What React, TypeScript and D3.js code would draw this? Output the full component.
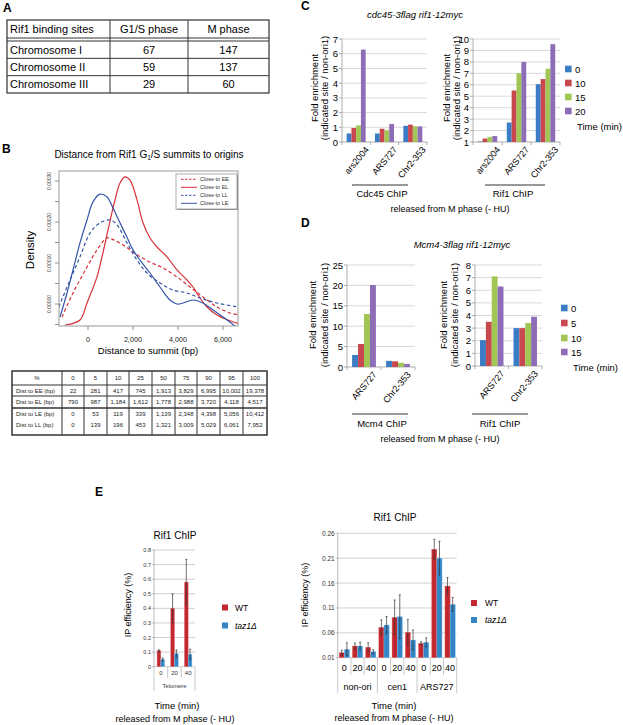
import React from 'react';
import * as d3 from 'd3';

const FONT = "'Liberation Sans', Arial, Helvetica, sans-serif";

// ---------- Panel A data ----------
const aHeaders = ['Rif1 binding sites', 'G1/S phase', 'M phase'];
const aChromosomes = ['Chromosome I', 'Chromosome II', 'Chromosome III'];
const aG1S = [67, 59, 29];
const aM = [147, 137, 60];

// ---------- Panel B data (distance bp, density) ----------
const curveEE: [number, number][] = [
  [-1156, -0.0000317], [-667, 0.0000268], [-44, 0.0000902], [400, 0.000132], [844, 0.000161],
  [1111, 0.000157], [1556, 0.000144], [2178, 0.00012], [2756, 0.000102], [3333, 0.0000878],
  [3956, 0.0000659], [4533, 0.0000415], [5111, 0.0000171], [5733, -0.0000073], [6311, -0.000022], [6700, -0.0000268],
];
const curveEL: [number, number][] = [
  [-1022, -0.0000512], [-356, -0.000039], [-44, 0.0000024], [400, 0.000066], [622, 0.000115],
  [889, 0.00018], [1200, 0.000254], [1422, 0.000295], [1644, 0.00031], [1867, 0.000302],
  [2178, 0.000254], [2444, 0.000198], [2756, 0.000161], [3067, 0.000139], [3511, 0.000115],
  [3956, 0.000083], [4400, 0.0000585], [4667, 0.0000415], [4978, 0.0000146], [5289, -0.0000073],
  [5733, -0.000027], [6311, -0.000041], [6756, -0.000049],
];
const curveLL: [number, number][] = [
  [-1300, -0.0000073], [-800, 0.0000585], [-356, 0.000115], [89, 0.000173], [533, 0.000198],
  [978, 0.000205], [1289, 0.000193], [1733, 0.000149], [2178, 0.000107], [2622, 0.0000756],
  [3200, 0.0000512], [3778, 0.0000341], [4400, 0.0000268], [4978, 0.0000146], [5733, 0.0000024], [6700, -0.0000073],
];
const curveLE: [number, number][] = [
  [-1244, -0.0000317], [-933, 0.0000268], [-667, 0.0000829], [-356, 0.000149], [-44, 0.000205],
  [222, 0.000249], [533, 0.000268], [844, 0.000261], [1111, 0.000234], [1422, 0.000198],
  [1733, 0.000163], [2000, 0.000132], [2311, 0.000107], [2756, 0.0000756], [3200, 0.0000415],
  [3644, 0.0000098], [3956, 0.0], [4222, 0.0000024], [4667, 0.0000098], [5111, 0.0000024],
  [5556, -0.0000146], [6000, -0.0000317], [6533, -0.0000537],
];
const bLegend = ['Close to EE', 'Close to EL', 'Close to LL', 'Close to LE'];
const bXTicks = [0, 2000, 4000, 6000];
const bYTicks = [-0.00005, 0, 0.00005, 0.0001, 0.00015, 0.0002, 0.00025, 0.0003];
const bYLabels = [0, 0.0001, 0.0002, 0.0003];

const bPercent = [0, 5, 10, 25, 50, 75, 90, 95, 100];
const bRowNames = ['Dist to EE (bp)', 'Dist to EL (bp)', 'Dist to LE (bp)', 'Dist to LL (bp)'];
const distEE = [22, 281, 417, 745, 1913, 3829, 6995, 10002, 19378];
const distEL = [790, 987, 1184, 1612, 1778, 2988, 3720, 4118, 4517];
const distLE = [0, 53, 119, 339, 1139, 2348, 4398, 5056, 10412];
const distLL = [0, 139, 196, 453, 1321, 3009, 5029, 6061, 7952];

// ---------- Panel C data ----------
const cSites = ['ars2004', 'ARS727', 'Chr2-353'];
const cTimes = ['0', '10', '15', '20'];
const cCdc45 = [[0.58, 0.95, 1.13, 6.28], [0.58, 0.9, 0.8, 1.22], [1.1, 1.18, 1.07, 1.06]];
const cRif1 = [[1.05, 1.3, 1.45, 1.52], [2.7, 5.5, 7.0, 8.0], [6.05, 6.5, 7.4, 9.55]];

// ---------- Panel D data ----------
const dSites = ['ARS727', 'Chr2-353'];
const dTimes = ['0', '5', '10', '15'];
const dMcm4 = [[2.95, 5.65, 13.0, 20.1], [1.5, 1.4, 1.05, 0.75]];
const dRif1 = [[2.05, 3.5, 7.1, 6.3], [3.0, 3.0, 3.4, 3.9]];

// ---------- Panel E data ----------
const eTimes = ['0', '20', '40'];
const eLeftWT = [0.11, 0.4, 0.58];
const eLeftWTErr = [0.005, 0.1, 0.155];
const eLeftTaz = [0.05, 0.09, 0.085];
const eLeftTazErr = [0.01, 0.025, 0.035];

const eRightCats = ['non-ori', 'cen1', 'ARS727'];
const eRightWT = [0.02, 0.0335, 0.031, 0.071, 0.091, 0.061, 0.039, 0.228, 0.154];
const eRightWTErr = [0.005, 0.006, 0.009, 0.015, 0.035, 0.026, 0.003, 0.02, 0.017];
const eRightTaz = [0.027, 0.0335, 0.022, 0.0757, 0.0923, 0.0455, 0.041, 0.21, 0.117];
const eRightTazErr = [0.013, 0.0075, 0.004, 0.017, 0.044, 0.02, 0.009, 0.034, 0.014];

const BAR_COLORS = ['#3b7dc4', '#c9474f', '#a2c654', '#8d6db5'];
const E_RED = '#c3282f';
const E_BLUE = '#3385c6';
const B_RED = '#d7303a';
const B_BLUE = '#3556a8';

function Letter({ x, y, t }: { x: number; y: number; t: string }) {
  return <text x={x} y={y} fontSize={12} fontWeight="bold" fontFamily={FONT}>{t}</text>;
}

function PanelA() {
  const cols = [7, 110, 188, 269];
  const headerTop = 20, headerBot = 38, bodyTop = 41, bottom = 93;
  const rowH = (bottom - bodyTop) / aChromosomes.length;
  const cx = (i: number) => (cols[i] + cols[i + 1]) / 2;
  return (
    <g fontFamily={FONT} fontSize={11}>
      <Letter x={3} y={12} t="A" />
      <rect x={cols[0]} y={headerTop} width={cols[3] - cols[0]} height={bottom - headerTop} fill="none" stroke="#333" strokeWidth={1.2} />
      <line x1={cols[0]} x2={cols[3]} y1={headerBot} y2={headerBot} stroke="#333" />
      <line x1={cols[0]} x2={cols[3]} y1={bodyTop} y2={bodyTop} stroke="#333" />
      {aChromosomes.slice(1).map((_, i) => (
        <line key={i} x1={cols[0]} x2={cols[3]} y1={bodyTop + rowH * (i + 1)} y2={bodyTop + rowH * (i + 1)} stroke="#333" />
      ))}
      {[1, 2].map((i) => (
        <line key={i} x1={cols[i]} x2={cols[i]} y1={headerTop} y2={bottom} stroke="#333" />
      ))}
      <text x={cols[0] + 3} y={(headerTop + headerBot) / 2} dominantBaseline="central">{aHeaders[0]}</text>
      <text x={cx(1)} y={(headerTop + headerBot) / 2} dominantBaseline="central" textAnchor="middle">{aHeaders[1]}</text>
      <text x={cx(2)} y={(headerTop + headerBot) / 2} dominantBaseline="central" textAnchor="middle">{aHeaders[2]}</text>
      {aChromosomes.map((c, i) => {
        const yc = bodyTop + rowH * (i + 0.5);
        return (
          <g key={c}>
            <text x={cols[0] + 3} y={yc} dominantBaseline="central">{c}</text>
            <text x={cx(1)} y={yc} dominantBaseline="central" textAnchor="middle">{aG1S[i]}</text>
            <text x={cx(2)} y={yc} dominantBaseline="central" textAnchor="middle">{aM[i]}</text>
          </g>
        );
      })}
    </g>
  );
}

function PanelB() {
  const L = 59, R = 238, T = 171, B = 326;
  const x = d3.scaleLinear().domain([(L - 88) / 45 * 2000, (R - 88) / 45 * 2000]).range([L, R]);
  const y = d3.scaleLinear().domain([-(B - 304) / 41 * 0.0001, (304 - T) / 41 * 0.0001]).range([B, T]);
  const line = d3.line<[number, number]>().x((d) => x(d[0])).y((d) => y(d[1])).curve(d3.curveCatmullRom.alpha(0.5));
  const curves = [
    { d: curveEE, c: B_RED, dash: '3.5,2.5' },
    { d: curveEL, c: B_RED, dash: undefined },
    { d: curveLL, c: B_BLUE, dash: '3.5,2.5' },
    { d: curveLE, c: B_BLUE, dash: undefined },
  ];
  const fmt = d3.format(',');
  const tCols = [12, 62, 84, 107, 129, 152, 175, 197, 220, 243, 267];
  const tLines = [371, 385, 396, 408, 435];
  const rowYs = [378, 390.5, 402, 414, 425];
  const rows = [distEE, distEL, distLE, distLL];
  return (
    <g fontFamily={FONT}>
      <Letter x={2} y={153} t="B" />
      <text x={149} y={158} fontSize={10} textAnchor="middle">
        Distance from Rif1 G<tspan fontSize={6.5} dy={2}>1</tspan><tspan dy={-2}>/S summits to origins</tspan>
      </text>
      <defs>
        <clipPath id="bclip"><rect x={L} y={T} width={R - L} height={B - T} /></clipPath>
      </defs>
      <g clipPath="url(#bclip)">
        {curves.map((c, i) => (
          <path key={i} d={line(c.d) || ''} fill="none" stroke={c.c} strokeWidth={1.2} strokeDasharray={c.dash} />
        ))}
      </g>
      <rect x={L} y={T} width={R - L} height={B - T} fill="none" stroke="#999" strokeWidth={1} />
      {bYTicks.map((t, i) => (
        <line key={i} x1={L - 4} x2={L} y1={y(t)} y2={y(t)} stroke="#777" strokeWidth={0.8} />
      ))}
      {bYLabels.map((t, i) => (
        <text key={i} transform={`translate(${L - 8},${y(t)}) rotate(-90)`} textAnchor="middle" fontSize={5} fill="#333">
          {t.toFixed(5)}
        </text>
      ))}
      {bXTicks.map((t, i) => (
        <g key={i}>
          <line x1={x(t)} x2={x(t)} y1={B} y2={B + 4} stroke="#777" strokeWidth={0.8} />
          <text x={x(t)} y={B + 16} textAnchor="middle" fontSize={7.2} fill="#222">{fmt(t)}</text>
        </g>
      ))}
      <text x={148} y={354} textAnchor="middle" fontSize={9.5}>Distance to summit (bp)</text>
      <text transform={`translate(34,250) rotate(-90)`} textAnchor="middle" fontSize={11.5}>Density</text>
      <rect x={177} y={175} width={61} height={35} fill="#888" />
      <rect x={176} y={174} width={61} height={35} fill="#fff" stroke="#999" strokeWidth={0.8} />
      {bLegend.map((s, i) => {
        const yy = 179.3 + i * 8;
        return (
          <g key={s}>
            <line x1={181} x2={197} y1={yy} y2={yy} stroke={curves[i].c} strokeWidth={1} strokeDasharray={curves[i].dash ? '2.5,1.5' : undefined} />
            <text x={200} y={yy} dominantBaseline="central" fontSize={5.5} fill="#333">{s}</text>
          </g>
        );
      })}
      <g fontSize={6} fill="#222">
        <rect x={tCols[0]} y={tLines[0]} width={tCols[tCols.length - 1] - tCols[0]} height={tLines[tLines.length - 1] - tLines[0]} fill="none" stroke="#333" strokeWidth={1.5} />
        {tLines.slice(1, -1).map((yy, i) => (
          <line key={i} x1={tCols[0]} x2={tCols[tCols.length - 1]} y1={yy} y2={yy} stroke="#333" strokeWidth={i === 2 ? 1.5 : 1} />
        ))}
        {tCols.slice(1, -1).map((xx, i) => (
          <line key={i} x1={xx} x2={xx} y1={tLines[0]} y2={tLines[tLines.length - 1]} stroke="#333" strokeWidth={1} />
        ))}
        <text x={(tCols[0] + tCols[1]) / 2} y={rowYs[0]} textAnchor="middle" dominantBaseline="central">%</text>
        {bPercent.map((p, j) => (
          <text key={j} x={(tCols[j + 1] + tCols[j + 2]) / 2} y={rowYs[0]} textAnchor="middle" dominantBaseline="central">{p}</text>
        ))}
        {rows.map((r, i) => (
          <g key={i}>
            <text x={tCols[0] + 4} y={rowYs[i + 1]} dominantBaseline="central">{bRowNames[i]}</text>
            {r.map((v, j) => (
              <text key={j} x={(tCols[j + 1] + tCols[j + 2]) / 2} y={rowYs[i + 1]} textAnchor="middle" dominantBaseline="central">{fmt(v)}</text>
            ))}
          </g>
        ))}
      </g>
    </g>
  );
}

type BarProps = {
  left: number; right: number; top: number; bottom: number;
  yMin: number; yMax: number; step: number;
  sites: string[]; times: string[]; values: number[][]; pad: number;
  ylab1: number; ylab2: number; ylabY: number;
};

function GroupedBars(p: BarProps) {
  const y = d3.scaleLinear().domain([p.yMin, p.yMax]).range([p.bottom, p.top]);
  const xg = d3.scaleBand<string>().domain(p.sites).range([p.left, p.right]).paddingInner(p.pad).paddingOuter(p.pad / 2);
  const xs = d3.scaleBand<string>().domain(p.times).range([0, xg.bandwidth()]);
  const ticks = d3.range(p.yMin, p.yMax + 1e-9, p.step);
  const bounds = p.sites.map((_, i) => p.left + i * xg.step()).concat([p.right]);
  return (
    <g fontFamily={FONT}>
      {ticks.map((t) => (
        <g key={t}>
          <line x1={p.left} x2={p.right} y1={y(t)} y2={y(t)} stroke={t === p.yMin ? '#999' : '#cfcfcf'} strokeWidth={0.8} />
          <line x1={p.left - 3} x2={p.left} y1={y(t)} y2={y(t)} stroke="#999" strokeWidth={0.8} />
          <text x={p.left - 4} y={y(t)} textAnchor="end" dominantBaseline="central" fontSize={9.5}>{t}</text>
        </g>
      ))}
      <line x1={p.left} x2={p.left} y1={p.top} y2={p.bottom} stroke="#999" strokeWidth={0.8} />
      {bounds.map((b, i) => (
        <line key={i} x1={b} x2={b} y1={p.bottom} y2={p.bottom + 3} stroke="#999" strokeWidth={0.8} />
      ))}
      {p.sites.map((s, i) => (
        <g key={s}>
          {p.times.map((t, j) => (
            <rect key={t} x={(xg(s) || 0) + (xs(t) || 0)} y={y(p.values[i][j])} width={xs.bandwidth()} height={y(p.yMin) - y(p.values[i][j])} fill={BAR_COLORS[j]} />
          ))}
          <text transform={`translate(${(xg(s) || 0) + xg.bandwidth() / 2 + 11},${p.bottom + 6}) rotate(-50)`} textAnchor="end" dominantBaseline="central" fontSize={9}>{s}</text>
        </g>
      ))}
      <text transform={`translate(${p.ylab1},${p.ylabY}) rotate(-90)`} textAnchor="middle" fontSize={9.5}>Fold enrichment</text>
      <text transform={`translate(${p.ylab2},${p.ylabY}) rotate(-90)`} textAnchor="middle" fontSize={9.5}>(indicated site / non-ori1)</text>
    </g>
  );
}

function Legend({ x, ys, labels, timeY }: { x: number; ys: number[]; labels: string[]; timeY: number }) {
  return (
    <g fontFamily={FONT} fontSize={9.5}>
      {labels.map((l, i) => (
        <g key={l}>
          <rect x={x} y={ys[i] - 3.3} width={6.6} height={6.6} fill={BAR_COLORS[i]} />
          <text x={x + 10} y={ys[i]} dominantBaseline="central">{l}</text>
        </g>
      ))}
      <text x={x + 12} y={timeY} dominantBaseline="central">Time (min)</text>
    </g>
  );
}

function PanelC() {
  return (
    <g fontFamily={FONT}>
      <Letter x={301} y={10} t="C" />
      <text x={415} y={18} textAnchor="middle" fontSize={9.5} fontStyle="italic">cdc45-3flag rif1-12myc</text>
      <GroupedBars left={342} right={427} top={39} bottom={142} yMin={0} yMax={7} step={1} sites={cSites} times={cTimes} values={cCdc45} pad={0.33} ylab1={318} ylab2={328} ylabY={88} />
      <GroupedBars left={473} right={560} top={39} bottom={142} yMin={1} yMax={10} step={1} sites={cSites} times={cTimes} values={cRif1} pad={0.33} ylab1={450} ylab2={460} ylabY={88} />
      <Legend x={565} ys={[69, 83, 97, 111]} labels={cTimes} timeY={126} />
      <line x1={352} x2={408} y1={185} y2={185} stroke="#333" strokeWidth={1} />
      <line x1={485} x2={545} y1={185} y2={185} stroke="#333" strokeWidth={1} />
      <text x={382} y={197} textAnchor="middle" fontSize={9.5}>Cdc45 ChIP</text>
      <text x={513} y={197} textAnchor="middle" fontSize={9.5}>Rif1 ChIP</text>
      <text x={450} y={212} textAnchor="middle" fontSize={9}>released from M phase (- HU)</text>
    </g>
  );
}

function PanelD() {
  return (
    <g fontFamily={FONT}>
      <Letter x={301} y={227} t="D" />
      <text x={462} y={248} textAnchor="middle" fontSize={9.5} fontStyle="italic">Mcm4-3flag rif1-12myc</text>
      <GroupedBars left={347} right={415} top={265} bottom={367} yMin={0} yMax={25} step={5} sites={dSites} times={dTimes} values={dMcm4} pad={0.3} ylab1={316} ylab2={328} ylabY={315} />
      <GroupedBars left={475} right={542} top={265} bottom={366} yMin={0} yMax={8} step={1} sites={dSites} times={dTimes} values={dRif1} pad={0.3} ylab1={447} ylab2={458} ylabY={315} />
      <Legend x={561} ys={[308, 323, 338, 352]} labels={dTimes} timeY={367} />
      <line x1={352} x2={408} y1={414} y2={414} stroke="#333" strokeWidth={1} />
      <line x1={472} x2={528} y1={414} y2={414} stroke="#333" strokeWidth={1} />
      <text x={382} y={427} textAnchor="middle" fontSize={9.5}>Mcm4 ChIP</text>
      <text x={500} y={427} textAnchor="middle" fontSize={9.5}>Rif1 ChIP</text>
      <text x={440} y={442} textAnchor="middle" fontSize={9}>released from M phase (- HU)</text>
    </g>
  );
}

type EProps = {
  left: number; right: number; top: number; bottom: number;
  yMin: number; yMax: number; ticks: number[]; tickFmt: (v: number) => string; tickFont: number;
  cols: string[]; wt: number[]; wtErr: number[]; taz: number[]; tazErr: number[]; pad: number;
};

function EBars(p: EProps) {
  const y = d3.scaleLinear().domain([p.yMin, p.yMax]).range([p.bottom, p.top]);
  const x = d3.scaleBand<number>().domain(d3.range(p.cols.length)).range([p.left, p.right]).paddingInner(p.pad).paddingOuter(p.pad / 2);
  const xi = d3.scaleBand<string>().domain(['WT', 'taz']).range([0, x.bandwidth()]);
  const series = [
    { k: 'WT', v: p.wt, e: p.wtErr, c: E_RED },
    { k: 'taz', v: p.taz, e: p.tazErr, c: E_BLUE },
  ];
  return (
    <g fontFamily={FONT}>
      {p.ticks.map((t) => (
        <g key={t}>
          <line x1={p.left} x2={p.right} y1={y(t)} y2={y(t)} stroke="#c4c4c4" strokeWidth={0.8} />
          <line x1={p.left - 2} x2={p.left} y1={y(t)} y2={y(t)} stroke="#aaa" strokeWidth={0.8} />
          <text x={p.left - 3} y={y(t)} textAnchor="end" dominantBaseline="central" fontSize={p.tickFont} fill="#333">{p.tickFmt(t)}</text>
        </g>
      ))}
      <line x1={p.left} x2={p.left} y1={p.top} y2={p.bottom} stroke="#aaa" strokeWidth={0.8} />
      {series.map((s) =>
        p.cols.map((_, i) => {
          const bx = (x(i) || 0) + (xi(s.k) || 0);
          const w = xi.bandwidth();
          const cxm = bx + w / 2;
          return (
            <g key={s.k + i}>
              <rect x={bx} y={y(s.v[i])} width={w} height={y(p.yMin) - y(s.v[i])} fill={s.c} stroke={s.k === 'WT' ? '#e07a7e' : '#8cc4ea'} strokeWidth={0.4} />
              <line x1={cxm} x2={cxm} y1={y(s.v[i] + s.e[i])} y2={y(s.v[i] - s.e[i])} stroke="#333" strokeWidth={0.7} />
              <line x1={cxm - 1} x2={cxm + 1} y1={y(s.v[i] + s.e[i])} y2={y(s.v[i] + s.e[i])} stroke="#333" strokeWidth={0.7} />
              <line x1={cxm - 1} x2={cxm + 1} y1={y(s.v[i] - s.e[i])} y2={y(s.v[i] - s.e[i])} stroke="#333" strokeWidth={0.7} />
            </g>
          );
        })
      )}
    </g>
  );
}

function PanelE() {
  const lL = 154, lR = 195, lT = 550, lB = 666.7;
  const lStep = (lR - lL) / eTimes.length;
  const rL = 337.7, rR = 456.7, rT = 533.3, rB = 657.7;
  const rCols = eRightCats.flatMap(() => eTimes.map((t) => t));
  const rStep = (rR - rL) / rCols.length;
  return (
    <g fontFamily={FONT}>
      <Letter x={95} y={496} t="E" />
      <text x={175} y={539} textAnchor="middle" fontSize={10}>Rif1 ChIP</text>
      <EBars left={lL} right={lR} top={lT} bottom={lB} yMin={0} yMax={0.8} ticks={d3.range(0, 0.81, 0.1).map((v) => +v.toFixed(1))} tickFmt={(v) => (v === 0 ? '0' : v.toFixed(1))} tickFont={5.5}
        cols={eTimes} wt={eLeftWT} wtErr={eLeftWTErr} taz={eLeftTaz} tazErr={eLeftTazErr} pad={0.45} />
      {d3.range(eTimes.length + 1).map((i) => (
        <line key={i} x1={lL + i * lStep} x2={lL + i * lStep} y1={lB} y2={i === 0 || i === eTimes.length ? 691 : 678} stroke="#bbb" strokeWidth={0.8} />
      ))}
      {eTimes.map((t, i) => (
        <text key={t} x={lL + (i + 0.5) * lStep} y={675} textAnchor="middle" fontSize={6} fill="#333">{t}</text>
      ))}
      <text x={(lL + lR) / 2} y={688} textAnchor="middle" fontSize={5.8} fill="#333">Telomere</text>
      <text transform="translate(131,605) rotate(-90)" textAnchor="middle" fontSize={9}>IP efficiency (%)</text>
      <text x={177} y={709} textAnchor="middle" fontSize={9.5}>Time (min)</text>
      <text x={175} y={722} textAnchor="middle" fontSize={9}>released from M phase (- HU)</text>
      <rect x={222} y={604.5} width={6} height={6} fill={E_RED} />
      <text x={235} y={608} dominantBaseline="central" fontSize={8.5}>WT</text>
      <rect x={222} y={622.5} width={6} height={6} fill={E_BLUE} />
      <text x={235} y={626} dominantBaseline="central" fontSize={8.5} fontStyle="italic">taz1Δ</text>

      <text x={395} y={521} textAnchor="middle" fontSize={10}>Rif1 ChIP</text>
      <EBars left={rL} right={rR} top={rT} bottom={rB} yMin={0.01} yMax={0.26} ticks={d3.range(0, 6).map((i) => +(0.01 + i * 0.05).toFixed(2))} tickFmt={(v) => v.toFixed(2)} tickFont={6.5}
        cols={rCols} wt={eRightWT} wtErr={eRightWTErr} taz={eRightTaz} tazErr={eRightTazErr} pad={0.22} />
      {d3.range(rCols.length + 1).map((i) => (
        <line key={i} x1={rL + i * rStep} x2={rL + i * rStep} y1={rB} y2={i % 3 === 0 ? 693 : 675} stroke="#bbb" strokeWidth={0.8} />
      ))}
      {rCols.map((t, i) => (
        <text key={i} x={rL + (i + 0.5) * rStep} y={671} textAnchor="middle" fontSize={9}>{t}</text>
      ))}
      {eRightCats.map((c, i) => (
        <text key={c} x={rL + (i * 3 + 1.5) * rStep} y={690} textAnchor="middle" fontSize={9}>{c}</text>
      ))}
      <text transform="translate(308,595) rotate(-90)" textAnchor="middle" fontSize={9}>IP efficiency (%)</text>
      <text x={394} y={709} textAnchor="middle" fontSize={9.5}>Time (min)</text>
      <text x={394} y={721} textAnchor="middle" fontSize={9}>released from M phase (- HU)</text>
      <rect x={471} y={600} width={6} height={6} fill={E_RED} />
      <text x={485} y={603} dominantBaseline="central" fontSize={8.5}>WT</text>
      <rect x={471} y={617} width={6} height={6} fill={E_BLUE} />
      <text x={485} y={620} dominantBaseline="central" fontSize={8.5} fontStyle="italic">taz1Δ</text>
    </g>
  );
}

export default function App() {
  return (
    <svg width={623} height={725} viewBox="0 0 623 725" style={{ position: 'absolute', left: 0, top: 0, background: '#fff' }}>
      <rect width={623} height={725} fill="#fff" />
      <PanelA />
      <PanelB />
      <PanelC />
      <PanelD />
      <PanelE />
    </svg>
  );
}
